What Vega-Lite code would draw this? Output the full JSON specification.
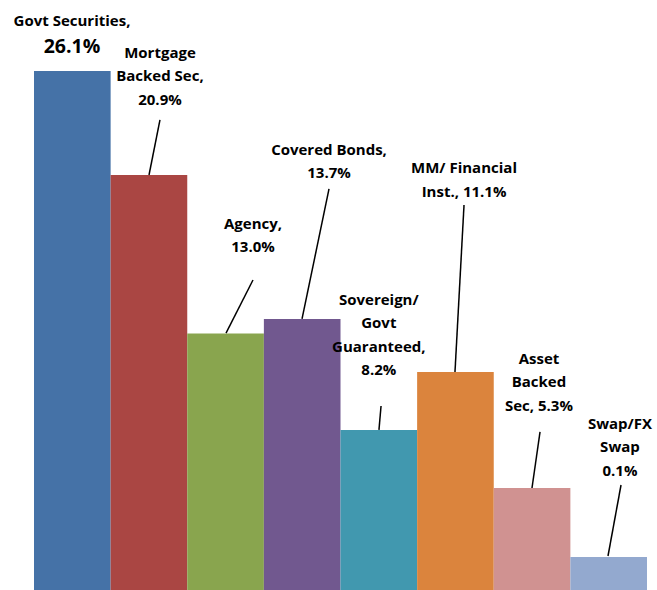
{
  "$schema": "https://vega.github.io/schema/vega-lite/v6.json",
  "width": 613,
  "height": 590,
  "autosize": {"type": "none"},
  "padding": {"left": 34, "right": 10, "top": 0, "bottom": 0},
  "background": "white",
  "config": {"view": {"stroke": null}},
  "datasets": {
    "bars": [
      {"category": "Govt Securities", "value": 26.1},
      {"category": "Mortgage Backed Sec", "value": 20.87},
      {"category": "Agency", "value": 12.9},
      {"category": "Covered Bonds", "value": 13.63},
      {"category": "Sovereign/Govt Guaranteed", "value": 8.05},
      {"category": "MM/ Financial Inst.", "value": 10.96},
      {"category": "Asset Backed Sec", "value": 5.13},
      {"category": "Swap/FX Swap", "value": 1.66}
    ],
    "labels": [
      {"category": "Govt Securities", "role": "name", "text": "Govt Securities,", "x": 0.496, "y": 28.97},
      {"category": "Govt Securities", "role": "pct", "text": "26.1%", "x": 0.496, "y": 27.76},
      {"category": "Mortgage Backed Sec", "role": "name", "text": "Mortgage\nBacked Sec,\n20.9%", "x": 1.644, "y": 27.36},
      {"category": "Agency", "role": "name", "text": "Agency,\n13.0%", "x": 2.858, "y": 18.76},
      {"category": "Covered Bonds", "role": "name", "text": "Covered Bonds,\n13.7%", "x": 3.85, "y": 22.48},
      {"category": "Sovereign/Govt Guaranteed", "role": "name", "text": "Sovereign/\nGovt\nGuaranteed,\n8.2%", "x": 4.5, "y": 14.94},
      {"category": "MM/ Financial Inst.", "role": "name", "text": "MM/ Financial\nInst., 11.1%", "x": 5.612, "y": 21.57},
      {"category": "Asset Backed Sec", "role": "name", "text": "Asset\nBacked\nSec, 5.3%", "x": 6.59, "y": 11.97},
      {"category": "Swap/FX Swap", "role": "name", "text": "Swap/FX\nSwap\n0.1%", "x": 7.647, "y": 8.7}
    ],
    "leaders": [
      {"category": "Mortgage Backed Sec", "x1": 1.644, "y1": 23.64, "x2": 1.501, "y2": 20.87},
      {"category": "Agency", "x1": 2.858, "y1": 15.59, "x2": 2.506, "y2": 12.92},
      {"category": "Covered Bonds", "x1": 3.85, "y1": 20.17, "x2": 3.498, "y2": 13.63},
      {"category": "Sovereign/Govt Guaranteed", "x1": 4.529, "y1": 9.25, "x2": 4.502, "y2": 8.05},
      {"category": "MM/ Financial Inst.", "x1": 5.612, "y1": 19.36, "x2": 5.494, "y2": 10.96},
      {"category": "Asset Backed Sec", "x1": 6.604, "y1": 7.95, "x2": 6.499, "y2": 5.13},
      {"category": "Swap/FX Swap", "x1": 7.661, "y1": 5.28, "x2": 7.491, "y2": 1.71}
    ]
  },
  "resolve": {"scale": {"x": "independent"}, "axis": {"x": "independent"}},
  "layer": [
    {
      "data": {"name": "bars"},
      "mark": {"type": "bar"},
      "encoding": {
        "x": {"field": "category", "type": "nominal", "sort": null, "axis": null,
              "scale": {"paddingInner": 0, "paddingOuter": 0}},
        "y": {"field": "value", "type": "quantitative", "axis": null,
              "scale": {"domain": [0, 29.67], "nice": false, "zero": true}},
        "color": {"field": "category", "type": "nominal", "legend": null,
                  "scale": {"domain": ["Govt Securities", "Mortgage Backed Sec", "Agency", "Covered Bonds", "Sovereign/Govt Guaranteed", "MM/ Financial Inst.", "Asset Backed Sec", "Swap/FX Swap"],
                            "range": ["#4572A7", "#AA4643", "#89A54E", "#71588F", "#4198AF", "#DB843D", "#D09291", "#93A9CF"]}}
      }
    },
    {
      "layer": [
        {
          "data": {"name": "leaders"},
          "mark": {"type": "rule", "color": "black", "strokeWidth": 1.5},
          "encoding": {
            "x": {"field": "x1", "type": "quantitative", "axis": null, "scale": {"domain": [0, 8], "nice": false, "zero": true}},
            "y": {"field": "y1", "type": "quantitative", "axis": null},
            "x2": {"field": "x2"},
            "y2": {"field": "y2"}
          }
        },
        {
          "data": {"name": "labels"},
          "transform": [{"filter": "datum.role === 'name'"}],
          "mark": {"type": "text", "font": "Open Sans", "fontWeight": "bold", "fontSize": 15, "align": "center", "baseline": "top", "lineBreak": "\n", "lineHeight": 23.5, "color": "black"},
          "encoding": {
            "x": {"field": "x", "type": "quantitative", "axis": null},
            "y": {"field": "y", "type": "quantitative", "axis": null},
            "text": {"field": "text"}
          }
        },
        {
          "data": {"name": "labels"},
          "transform": [{"filter": "datum.role === 'pct'"}],
          "mark": {"type": "text", "font": "Open Sans", "fontWeight": "bold", "fontSize": 19.5, "align": "center", "baseline": "top", "color": "black"},
          "encoding": {
            "x": {"field": "x", "type": "quantitative", "axis": null},
            "y": {"field": "y", "type": "quantitative", "axis": null},
            "text": {"field": "text"}
          }
        }
      ]
    }
  ]
}
